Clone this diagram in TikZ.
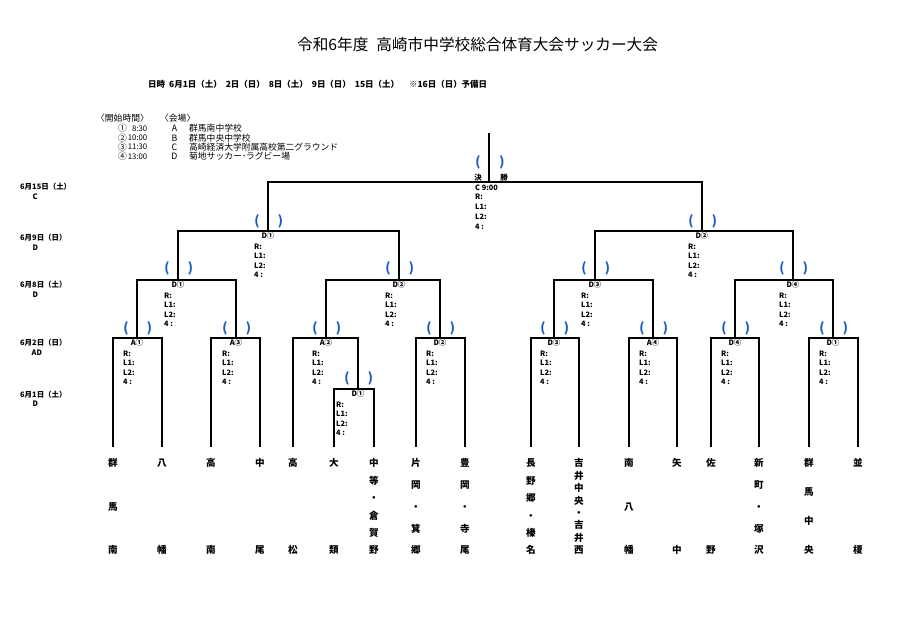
\documentclass[tikz,border=0pt]{standalone}
\usepackage{fontspec}
\setmainfont{Noto Sans CJK JP}
\definecolor{parblue}{RGB}{30,90,190}
\tikzset{
 ln/.style={line width=1.1bp, line join=miter},
 par/.style={inner sep=0, text=parblue, font=\bfseries\fontsize{13}{13}\selectfont},
 vlab/.style={inner sep=0, font=\bfseries\fontsize{7.5}{7.5}\selectfont},
 rlab/.style={inner sep=0, anchor=west, font=\bfseries\fontsize{7.4}{7.5}\selectfont},
 team/.style={inner sep=0, anchor=north, font=\bfseries\fontsize{9.6}{11}\selectfont},
 day/.style={inner sep=0, anchor=west, font=\bfseries\fontsize{7.5}{7.5}\selectfont},
 leg/.style={inner sep=0, font=\fontsize{8.8}{9}\selectfont},
}
\newcommand\vchars[1]{\vbox to 91.5bp{\foreach \c [count=\i] in #1{\ifnum\i>1 \vfill\fi\hbox to 12bp{\hss\raisebox{-0.38em}[4.5bp][4.5bp]{\c}\hss}}}}
% #1 coord, #2 venue, #3 R x offset, #4 paren y offset
\newcommand\mlab[4]{%
  \node[vlab] (#1v) at ([yshift=-5bp]#1) {#2};
  \foreach \t [count=\k] in {R:,L1:,L2:,4 :} {\node[rlab] (#1r\k) at ([xshift=#3bp, yshift={-6bp-9.5bp*\k}]#1) {\t};}
  \node[par] (#1p) at ([xshift=-11bp,yshift=#4bp]#1) {(};
  \node[par] (#1q) at ([xshift=12.5bp,yshift=#4bp]#1) {)};
}
\begin{document}
\begin{tikzpicture}[x=1bp,y=-1bp]
\useasboundingbox[fill=white] (0,0) rectangle (902,628);
% title and dates
\node[anchor=west, inner sep=0, font=\fontsize{15.7}{16}\selectfont] (title) at (297,45) {令和6年度\hspace{8bp}高崎市中学校総合体育大会サッカー大会};
\node[anchor=west, inner sep=0, font=\bfseries\fontsize{8.5}{8.5}\selectfont] (dates) at (148,84) {日時\hspace{4bp}6月1日（土）\hspace{4bp}2日（日）\hspace{4bp}8日（土）\hspace{4bp}9日（日）\hspace{4bp}15日（土）\hspace{10bp}※16日（日）予備日};
% legend
\node[leg, anchor=west] (lh1) at (96,118) {〈開始時間〉};
\node[leg, anchor=west] (lh2) at (160,118) {〈会場〉};
\foreach \n/\tm/\v/\pl [count=\j] in {①/8:30/A/群馬南中学校, ②/10:00/B/群馬中央中学校, ③/11:30/C/高崎経済大学附属高校第二グラウンド, ④/13:00/D/菊地サッカー･ラグビー場}{
  \node[leg] (lc\j) at (122.5,{119+9.4*\j}) {\n};
  \node[leg, anchor=east, font=\fontsize{7.8}{8}\selectfont] (lt\j) at (147.5,{119+9.4*\j}) {\tm};
  \node[leg] (lv\j) at (174.5,{119+9.4*\j}) {\v};
  \node[leg, anchor=west] (lp\j) at (189,{119+9.4*\j}) {\pl};
}
% day labels
\node[day] (d15) at (20,187) {6月15日（土）};  \node[day] (d15v) at (32.5,197) {C};
\node[day] (d9) at (20,238) {6月9日（日）};   \node[day] (d9v) at (32.5,247.5) {D};
\node[day] (d8) at (20,285) {6月8日（土）};   \node[day] (d8v) at (32.5,295) {D};
\node[day] (d2) at (20,342.5) {6月2日（日）}; \node[day] (d2v) at (31.5,353) {AD};
\node[day] (d1) at (20,394.5) {6月1日（土）}; \node[day] (d1v) at (32.5,404) {D};
% bracket points
\coordinate (top) at (489,133);
\coordinate (F) at (489,182);
\coordinate (S1) at (268,231); \coordinate (S2) at (702,231);
\coordinate (Q1) at (178,280); \coordinate (Q2) at (399,280);
\coordinate (Q3) at (595,280); \coordinate (Q4) at (793,280);
\coordinate (a1) at (137,338); \coordinate (a3) at (236,338);
\coordinate (a2) at (326,338); \coordinate (d2) at (440,338);
\coordinate (d3) at (554,338); \coordinate (a4) at (653,338);
\coordinate (d4) at (735,338); \coordinate (d1) at (833,338);
\coordinate (r1) at (358,389);
% teams
\foreach \x/\nm [count=\j] in {113/{群,馬,南}, 162/{八,幡}, 211/{高,南}, 260/{中,尾}, 293/{高,松}, 334/{大,類}, 374/{中,等,・,倉,賀,野}, 416/{片,岡,・,箕,郷}, 465/{豊,岡,・,寺,尾}, 531/{長,野,郷,・,榛,名}, 579/{吉,井,中,央,・,吉,井,西}, 629/{南,八,幡}, 677/{矢,中}, 711/{佐,野}, 759/{新,町,・,塚,沢}, 809/{群,馬,中,央}, 858/{並,榎}}{
  \node[team] (n\j) at (\x,458.5) {\vchars\nm};
  \coordinate (e\j) at ([yshift=11.5bp]n\j.north);
}
% lines
\draw[ln] (top) -- (F);
\draw[ln] (S1) |- (F) -| (S2);
\draw[ln] (Q1) |- (S1) -| (Q2);
\draw[ln] (Q3) |- (S2) -| (Q4);
\draw[ln] (a1) |- (Q1) -| (a3);
\draw[ln] (a2) |- (Q2) -| (d2);
\draw[ln] (d3) |- (Q3) -| (a4);
\draw[ln] (d4) |- (Q4) -| (d1);
\draw[ln] (e1) |- (a1) -| (e2);
\draw[ln] (e3) |- (a3) -| (e4);
\draw[ln] (e5) |- (a2) -| (r1);
\draw[ln] (e6) |- (r1) -| (e7);
\draw[ln] (e8) |- (d2) -| (e9);
\draw[ln] (e10) |- (d3) -| (e11);
\draw[ln] (e12) |- (a4) -| (e13);
\draw[ln] (e14) |- (d4) -| (e15);
\draw[ln] (e16) |- (d1) -| (e17);
% final labels
\node[par] (Fp) at ([xshift=-11bp,yshift=20bp]F) {(};
\node[par] (Fq) at ([xshift=13bp,yshift=20bp]F) {)};
\node[vlab] (Fk1) at ([xshift=-11bp,yshift=4.5bp]F) {決};
\node[vlab] (Fk2) at ([xshift=15bp,yshift=4.5bp]F) {勝};
\foreach \t [count=\k] in {C 9:00,R:,L1:,L2:,4 :} {\node[rlab] (Fr\k) at ([xshift=-14bp, yshift={4.5bp-9.8bp*\k}]F) {\t};}
% match labels
\mlab{S1}{D①}{-14}{10}
\mlab{S2}{D②}{-14}{10}
\mlab{Q1}{D①}{-14}{11.5}
\mlab{Q2}{D②}{-14}{11.5}
\mlab{Q3}{D③}{-14}{11.5}
\mlab{Q4}{D④}{-14}{11.5}
\mlab{a1}{A①}{-14}{10}
\mlab{a3}{A③}{-14}{10}
\mlab{a2}{A②}{-14}{10}
\mlab{d2}{D②}{-14}{10}
\mlab{d3}{D③}{-14}{10}
\mlab{a4}{A④}{-14}{10}
\mlab{d4}{D④}{-14}{10}
\mlab{d1}{D①}{-14}{10}
\mlab{r1}{D①}{-22}{11}
\end{tikzpicture}
\end{document}
